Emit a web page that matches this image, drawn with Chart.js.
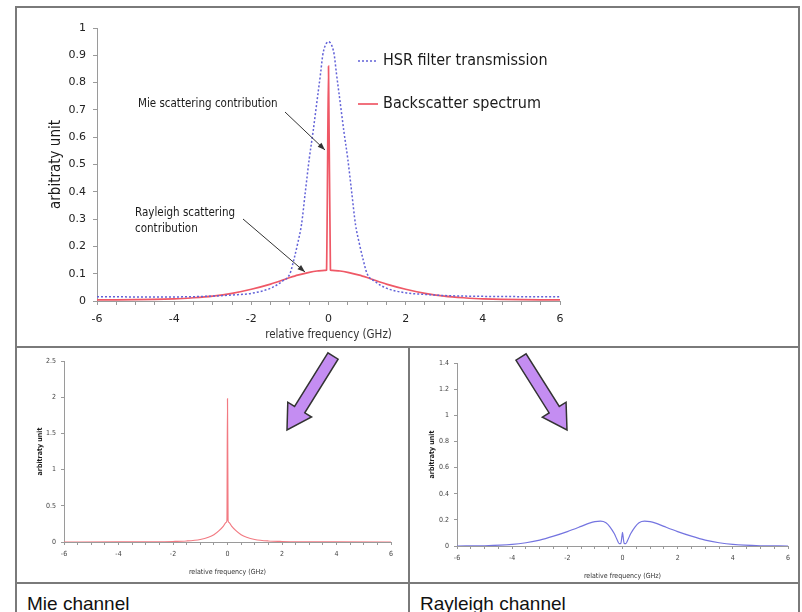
<!DOCTYPE html>
<html lang="en">
<head>
<meta charset="UTF-8">
<title>HSR filter and backscatter spectrum</title>
<script src="https://cdn.jsdelivr.net/npm/chart.js"></script>
<style>
  html, body { margin: 0; padding: 0; background: #fff; }
  #page { position: relative; width: 802px; height: 612px; overflow: hidden; background: #fff; }
  canvas { position: absolute; }
  .txt { position: absolute; white-space: nowrap; color: #1a1a1a; }
  .cond { font-family: "DejaVu Sans Condensed", "DejaVu Sans", sans-serif; }
  .cap { font-family: "Liberation Sans", Arial, sans-serif; font-size: 19px; color: #111; }
  svg { position: absolute; left: 0; top: 0; }
</style>
</head>
<body>
<div id="page">
  <canvas id="topChart" width="783" height="337" style="left:17px;top:9px;width:783px;height:337px"></canvas>
  <canvas id="mieChart" width="390" height="234" style="left:18px;top:349px;width:390px;height:234px"></canvas>
  <canvas id="rayChart" width="388" height="234" style="left:411px;top:349px;width:388px;height:234px"></canvas>

  <div class="txt cond" style="left:383px;top:50px;font-size:16px">HSR filter transmission</div>
  <div class="txt cond" style="left:383px;top:93px;font-size:16px">Backscatter spectrum</div>
  <div class="txt cond" style="left:138px;top:96px;font-size:11.5px">Mie scattering contribution</div>
  <div class="txt cond" style="left:135px;top:204px;font-size:11.5px;line-height:16px">Rayleigh scattering<br>contribution</div>

  <div class="txt cap" style="left:27px;top:593px">Mie channel</div>
  <div class="txt cap" style="left:420px;top:593px">Rayleigh channel</div>

  <svg id="overlay" width="802" height="612"></svg>
</div>
<script>
// top panel: HSR filter transmission (dotted blue)
const hsrFreq = [-6, -5, -4, -3, -2.5, -2, -1.5, -1.2, -1, -0.9, -0.8, -0.7, -0.6, -0.5, -0.4, -0.3, -0.2, -0.15, -0.1, -0.05, 0,
                 0.05, 0.1, 0.15, 0.2, 0.3, 0.4, 0.5, 0.6, 0.7, 0.8, 0.9, 1, 1.2, 1.5, 2, 2.5, 3, 4, 5, 6];
const hsrValues = [0.016, 0.015, 0.015, 0.018, 0.022, 0.028, 0.047, 0.072, 0.1, 0.15, 0.21, 0.28, 0.4, 0.52, 0.62, 0.73, 0.84, 0.9, 0.93, 0.945, 0.95,
                   0.945, 0.93, 0.9, 0.84, 0.73, 0.62, 0.52, 0.4, 0.28, 0.21, 0.15, 0.1, 0.072, 0.047, 0.03, 0.024, 0.02, 0.017, 0.016, 0.016];

// top panel: backscatter spectrum (solid red)
const backFreq = [-6, -5, -4, -3.5, -3, -2.5, -2, -1.5, -1.2, -1, -0.8, -0.5, -0.3, -0.1, -0.05, 0,
                  0.05, 0.1, 0.3, 0.5, 0.8, 1, 1.2, 1.5, 2, 2.5, 3, 3.5, 4, 5, 6];
const backValues = [0.004, 0.005, 0.008, 0.012, 0.018, 0.028, 0.043, 0.062, 0.076, 0.086, 0.095, 0.105, 0.11, 0.112, 0.113, 0.86,
                    0.113, 0.112, 0.11, 0.105, 0.095, 0.086, 0.076, 0.062, 0.043, 0.028, 0.018, 0.012, 0.008, 0.005, 0.004];

// bottom left: Mie channel
const mieFreq = [-6, -4, -3, -2, -1.5, -1, -0.7, -0.5, -0.3, -0.15, -0.05, -0.02, 0,
                 0.02, 0.05, 0.15, 0.3, 0.5, 0.7, 1, 1.5, 2, 3, 4, 6];
const mieValues = [0, 0.001, 0.003, 0.007, 0.014, 0.035, 0.065, 0.1, 0.16, 0.22, 0.27, 0.3, 1.98,
                   0.3, 0.27, 0.22, 0.16, 0.1, 0.065, 0.035, 0.014, 0.007, 0.003, 0.001, 0];

// bottom right: Rayleigh channel
const rayFreq = [-6, -5, -4, -3.5, -3, -2.5, -2, -1.5, -1.2, -1, -0.8, -0.6, -0.45, -0.3, -0.2, -0.12, -0.06, -0.02, 0,
                 0.02, 0.06, 0.12, 0.2, 0.3, 0.45, 0.6, 0.8, 1, 1.2, 1.5, 2, 2.5, 3, 3.5, 4, 5, 6];
const rayValues = [0, 0.002, 0.012, 0.025, 0.045, 0.075, 0.11, 0.15, 0.175, 0.187, 0.19, 0.178, 0.145, 0.095, 0.05, 0.018, 0.02, 0.075, 0.105,
                   0.075, 0.02, 0.018, 0.05, 0.095, 0.145, 0.178, 0.19, 0.187, 0.175, 0.15, 0.11, 0.075, 0.045, 0.025, 0.012, 0.002, 0];

const xTicks = [-6, -4, -2, 0, 2, 4, 6];
const topYTicks = [0, 0.1, 0.2, 0.3, 0.4, 0.5, 0.6, 0.7, 0.8, 0.9, 1];
const mieYTicks = [0, 0.5, 1, 1.5, 2, 2.5];
const rayYTicks = [0, 0.2, 0.4, 0.6, 0.8, 1, 1.2, 1.4];

const COND = '"DejaVu Sans Condensed", "DejaVu Sans", sans-serif';
const WIDE = '"DejaVu Sans", sans-serif';
const AXIS = '#9a9a9a';

function pts(xs, ys) {
  return xs.map((x, i) => ({ x: x, y: ys[i] }));
}

// build x / y scale options for one panel
function scales(o) {
  return {
    x: {
      type: 'linear', min: -6, max: 6,
      afterFit: s => { s.height = o.xh; },
      afterBuildTicks: s => {
        const t = [];
        for (let i = 0; i <= 24; i++) t.push({ value: -6 + i * 0.5 });
        s.ticks = t;
      },
      ticks: {
        autoSkip: false, maxRotation: 0, padding: o.xpad,
        font: { family: o.tickFam, size: o.tick }, color: o.tickCol,
        callback: v => xTicks.includes(v) ? String(v) : ''
      },
      grid: { drawOnChartArea: false, drawTicks: true, tickLength: o.tl, color: AXIS },
      border: { display: true, color: AXIS, width: 1 },
      title: { display: true, text: 'relative frequency (GHz)', color: '#333',
               font: { family: COND, size: o.xt }, padding: { top: 0, bottom: o.xtp } }
    },
    y: {
      type: 'linear', min: 0, max: o.ymax,
      afterFit: s => { s.width = o.yw; },
      afterBuildTicks: s => { s.ticks = o.yticks.map(v => ({ value: v })); },
      ticks: {
        padding: o.ypad, font: { family: o.tickFam, size: o.tick }, color: o.tickCol,
        callback: v => String(+v.toFixed(1))
      },
      grid: { drawOnChartArea: false, drawTicks: true, tickLength: o.tl, color: AXIS },
      border: { display: true, color: AXIS, width: 1 },
      title: { display: true, text: 'arbitraty unit', color: '#1a1a1a',
               font: { family: COND, size: o.yt, weight: o.ytw }, padding: { top: o.ytp, bottom: 0 } }
    }
  };
}

const baseOptions = {
  responsive: false, animation: false, events: [],
  plugins: { legend: { display: false }, tooltip: { enabled: false } },
  elements: { point: { radius: 0 }, line: { tension: 0.35, cubicInterpolationMode: 'monotone' } }
};

new Chart(document.getElementById('topChart'), {
  type: 'line',
  data: {
    datasets: [
      { label: 'HSR filter transmission', data: pts(hsrFreq, hsrValues),
        borderColor: '#6262d8', borderWidth: 1.5, borderDash: [2, 2], fill: false },
      { label: 'Backscatter spectrum', data: pts(backFreq, backValues),
        borderColor: '#ef5866', borderWidth: 1.7, fill: false, cubicInterpolationMode: 'default', tension: 0.2 }
    ]
  },
  options: Object.assign({}, baseOptions, {
    layout: { padding: { top: 19, right: 240, left: 0, bottom: 0 } },
    scales: scales({ ymax: 1, yticks: topYTicks, xh: 45, yw: 80, tick: 11, tickFam: WIDE, tickCol: '#222',
                     xt: 11.5, xtp: 4, yt: 15, ytw: 'normal', ytp: 30, xpad: 8, ypad: 7, tl: 4 })
  })
});

new Chart(document.getElementById('mieChart'), {
  type: 'line',
  data: { datasets: [{ label: 'Mie channel', data: pts(mieFreq, mieValues),
                       borderColor: '#f27a82', borderWidth: 1.2, fill: false, tension: 0.2 }] },
  options: Object.assign({}, baseOptions, {
    layout: { padding: { top: 12, right: 17, left: 0, bottom: 0 } },
    scales: scales({ ymax: 2.5, yticks: mieYTicks, xh: 41, yw: 46, tick: 7, tickFam: COND, tickCol: '#444',
                     xt: 7, xtp: 7, yt: 7, ytw: 'bold', ytp: 18, xpad: 5, ypad: 5, tl: 3 })
  })
});

new Chart(document.getElementById('rayChart'), {
  type: 'line',
  data: { datasets: [{ label: 'Rayleigh channel', data: pts(rayFreq, rayValues),
                       borderColor: '#7474e0', borderWidth: 1.2, fill: false, tension: 0.2 }] },
  options: Object.assign({}, baseOptions, {
    layout: { padding: { top: 14, right: 11, left: 0, bottom: 0 } },
    scales: scales({ ymax: 1.4, yticks: rayYTicks, xh: 37, yw: 46, tick: 7, tickFam: COND, tickCol: '#444',
                     xt: 7, xtp: 3, yt: 7, ytw: 'bold', ytp: 17, xpad: 5, ypad: 5, tl: 3 })
  })
});

// frame, legend swatches and arrows
const svg = document.getElementById('overlay');
const NS = 'http://www.w3.org/2000/svg';
function el(name, attrs) {
  const e = document.createElementNS(NS, name);
  for (const k in attrs) e.setAttribute(k, attrs[k]);
  svg.appendChild(e);
  return e;
}
const frame = { stroke: '#7a7a7a', 'stroke-width': 2, fill: 'none' };
el('rect', Object.assign({ x: 16, y: 7, width: 783, height: 620 }, frame));
el('line', Object.assign({ x1: 16, y1: 347, x2: 800, y2: 347 }, frame));
el('line', Object.assign({ x1: 409, y1: 347, x2: 409, y2: 612 }, frame));
el('line', Object.assign({ x1: 16, y1: 583, x2: 800, y2: 583 }, frame));

el('line', { x1: 358, y1: 61, x2: 378, y2: 61, stroke: '#6262d8', 'stroke-width': 1.5, 'stroke-dasharray': '2 2' });
el('line', { x1: 358, y1: 104, x2: 378, y2: 104, stroke: '#ef5866', 'stroke-width': 1.7 });

function pointer(x1, y1, x2, y2) {
  el('line', { x1: x1, y1: y1, x2: x2, y2: y2, stroke: '#333', 'stroke-width': 1 });
  const a = Math.atan2(y2 - y1, x2 - x1), L = 8, w = 0.35;
  el('polygon', { fill: '#333', points: [
    x2 + ',' + y2,
    (x2 - L * Math.cos(a - w)) + ',' + (y2 - L * Math.sin(a - w)),
    (x2 - L * Math.cos(a + w)) + ',' + (y2 - L * Math.sin(a + w))
  ].join(' ') });
}
pointer(285, 112, 325, 150);
pointer(243, 219, 305, 272);

function blockArrow(x1, y1, x2, y2) {
  const a = Math.atan2(y2 - y1, x2 - x1);
  const len = Math.hypot(x2 - x1, y2 - y1);
  const ux = Math.cos(a), uy = Math.sin(a), nx = -uy, ny = ux;
  const sw = 6, hw = 14, hl = 24;
  const bx = x1 + ux * (len - hl), by = y1 + uy * (len - hl);
  const p = [
    [x1 + nx * sw, y1 + ny * sw], [bx + nx * sw, by + ny * sw], [bx + nx * hw, by + ny * hw],
    [x2, y2], [bx - nx * hw, by - ny * hw], [bx - nx * sw, by - ny * sw], [x1 - nx * sw, y1 - ny * sw]
  ];
  el('polygon', { points: p.map(q => q.join(',')).join(' '), fill: '#c48df2', stroke: '#333', 'stroke-width': 1.5 });
}
blockArrow(333, 356, 287, 430);
blockArrow(521, 357, 567, 430);
</script>
</body>
</html>
